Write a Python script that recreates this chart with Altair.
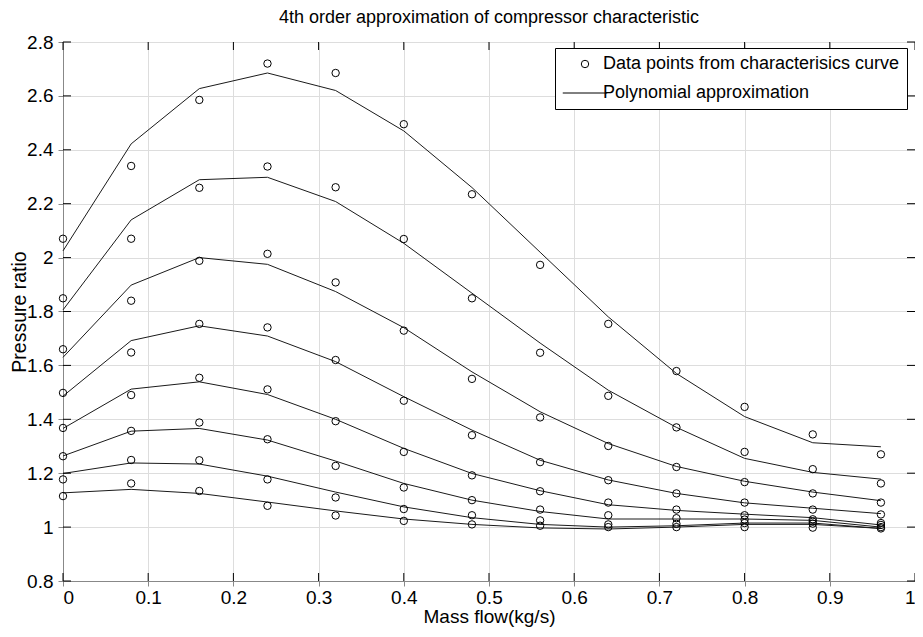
import altair as alt
import pandas as pd

x_vals = [0, 0.08, 0.16, 0.24, 0.32, 0.40, 0.48, 0.56, 0.64, 0.72, 0.80, 0.88, 0.96]

data_1 = [2.07, 2.34, 2.585, 2.72, 2.685, 2.495, 2.235, 1.973, 1.754, 1.579, 1.446, 1.344, 1.27]
poly_1 = [2.025, 2.422, 2.627, 2.685, 2.62, 2.47, 2.26, 2.02, 1.78, 1.57, 1.41, 1.313, 1.298]
data_2 = [1.849, 2.07, 2.259, 2.338, 2.261, 2.069, 1.849, 1.647, 1.487, 1.37, 1.279, 1.215, 1.162]
poly_2 = [1.806, 2.14, 2.289, 2.298, 2.208, 2.053, 1.868, 1.683, 1.508, 1.37, 1.255, 1.203, 1.178]
data_3 = [1.66, 1.84, 1.988, 2.014, 1.908, 1.729, 1.55, 1.407, 1.301, 1.223, 1.167, 1.125, 1.091]
poly_3 = [1.63, 1.898, 2.0, 1.975, 1.874, 1.74, 1.576, 1.428, 1.31, 1.225, 1.17, 1.13, 1.098]
data_4 = [1.498, 1.648, 1.754, 1.741, 1.62, 1.469, 1.341, 1.241, 1.174, 1.125, 1.091, 1.065, 1.047]
poly_4 = [1.486, 1.692, 1.747, 1.709, 1.614, 1.484, 1.36, 1.248, 1.175, 1.125, 1.09, 1.07, 1.05]
data_5 = [1.368, 1.49, 1.554, 1.511, 1.393, 1.279, 1.192, 1.133, 1.091, 1.065, 1.044, 1.029, 1.015]
poly_5 = [1.366, 1.512, 1.539, 1.492, 1.40, 1.292, 1.199, 1.135, 1.083, 1.062, 1.048, 1.035, 1.008]
data_6 = [1.263, 1.357, 1.388, 1.326, 1.227, 1.147, 1.10, 1.065, 1.044, 1.033, 1.028, 1.02, 1.008]
poly_6 = [1.264, 1.356, 1.366, 1.323, 1.245, 1.162, 1.10, 1.058, 1.03, 1.03, 1.03, 1.025, 1.0]
data_7 = [1.177, 1.249, 1.248, 1.177, 1.11, 1.067, 1.044, 1.025, 1.01, 1.012, 1.015, 1.013, 1.0]
poly_7 = [1.199, 1.238, 1.234, 1.189, 1.13, 1.075, 1.035, 1.01, 1.0, 1.005, 1.015, 1.015, 0.995]
data_8 = [1.115, 1.162, 1.134, 1.079, 1.043, 1.023, 1.01, 1.005, 1.0, 1.0, 1.0, 0.998, 0.995]
poly_8 = [1.127, 1.14, 1.125, 1.093, 1.06, 1.03, 1.01, 0.997, 0.993, 1.0, 1.01, 1.01, 0.995]

x_ticks = [0, 0.1, 0.2, 0.3, 0.4, 0.5, 0.6, 0.7, 0.8, 0.9, 1]
y_ticks = [0.8, 1, 1.2, 1.4, 1.6, 1.8, 2, 2.2, 2.4, 2.6, 2.8]

title_text = "4th order approximation of compressor characteristic"
x_title = "Mass flow(kg/s)"
y_title = "Pressure ratio"
lbl_data = "Data points from characterisics curve"
lbl_poly = "Polynomial approximation"

datas = [data_1, data_2, data_3, data_4, data_5, data_6, data_7, data_8]
polys = [poly_1, poly_2, poly_3, poly_4, poly_5, poly_6, poly_7, poly_8]

rows_d, rows_p = [], []
for i, (d, p) in enumerate(zip(datas, polys)):
    for xv, dv, pv in zip(x_vals, d, p):
        rows_d.append({"x": xv, "y": dv, "series": i, "kind": lbl_data})
        rows_p.append({"x": xv, "y": pv, "series": i})
df_d = pd.DataFrame(rows_d)
df_p = pd.DataFrame(rows_p)
df_xt = pd.DataFrame({"t": x_ticks})
df_yt = pd.DataFrame({"t": y_ticks})

W, H = 852, 539
FONT = "Liberation Sans"

xs = alt.Scale(domain=[0, 1], nice=False, zero=False)
ys = alt.Scale(domain=[0.8, 2.8], nice=False, zero=False)

x_axis = alt.Axis(values=x_ticks, format="~g", title=x_title, grid=True,
                  labelFontSize=19, titleFontSize=19, titleFontWeight="normal",
                  labelPadding=2, titlePadding=0)
y_axis = alt.Axis(values=y_ticks, format="~g", title=y_title, grid=True,
                  labelFontSize=19, titleFontSize=19.5, titleFontWeight="normal",
                  labelPadding=5, titleX=-38, titleBaseline="alphabetic")

lines = alt.Chart(df_p).mark_line(color="#1a1a1a", strokeWidth=1).encode(
    x=alt.X("x:Q", scale=xs, axis=x_axis),
    y=alt.Y("y:Q", scale=ys, axis=y_axis),
    detail="series:N",
)

points = alt.Chart(df_d).mark_point(filled=False, color="black", size=55, strokeWidth=1, opacity=1).encode(
    x=alt.X("x:Q", scale=xs),
    y=alt.Y("y:Q", scale=ys),
    shape=alt.Shape("kind:N",
                    scale=alt.Scale(domain=[lbl_data, lbl_poly], range=["circle", "M-6,0H6"]),
                    legend=alt.Legend(title=None, orient="none", legendX=492, legendY=6,
                                      labelFontSize=18, labelFont=FONT, labelColor="black",
                                      labelLimit=1000,
                                      strokeColor="black", fillColor="white", padding=7,
                                      rowPadding=11, symbolOffset=14, labelOffset=9,
                                      symbolStrokeColor="black", symbolStrokeWidth=1,
                                      cornerRadius=0, symbolSize=55)),
)

tick_bottom = alt.Chart(df_xt).mark_rule(color="black", strokeWidth=1).encode(
    x=alt.X("t:Q", scale=xs), y=alt.value(H), y2=alt.value(H - 8))
tick_top = alt.Chart(df_xt).mark_rule(color="black", strokeWidth=1).encode(
    x=alt.X("t:Q", scale=xs), y=alt.value(0), y2=alt.value(8))
tick_left = alt.Chart(df_yt).mark_rule(color="black", strokeWidth=1).encode(
    y=alt.Y("t:Q", scale=ys), x=alt.value(0), x2=alt.value(8))
tick_right = alt.Chart(df_yt).mark_rule(color="black", strokeWidth=1).encode(
    y=alt.Y("t:Q", scale=ys), x=alt.value(W), x2=alt.value(W - 8))

chart = alt.layer(lines, tick_bottom, tick_top, tick_left, tick_right, points).properties(
    width=W, height=H,
    autosize=alt.AutoSizeParams(type="none"),
    padding={"left": 55, "top": 34, "right": 0, "bottom": 50},
    title=alt.Title(title_text, fontSize=18, fontWeight="normal", font=FONT, color="black", offset=6),
).configure_view(
    stroke="black", strokeWidth=1
).configure_axis(
    domain=False, ticks=False, gridDash=[1, 2], gridColor="#222", gridOpacity=0.9, gridWidth=1,
    labelFont=FONT, titleFont=FONT, labelColor="black", titleColor="black",
).configure(background="white")

chart.save("out.html", embed_options={"renderer": "svg", "actions": False})
